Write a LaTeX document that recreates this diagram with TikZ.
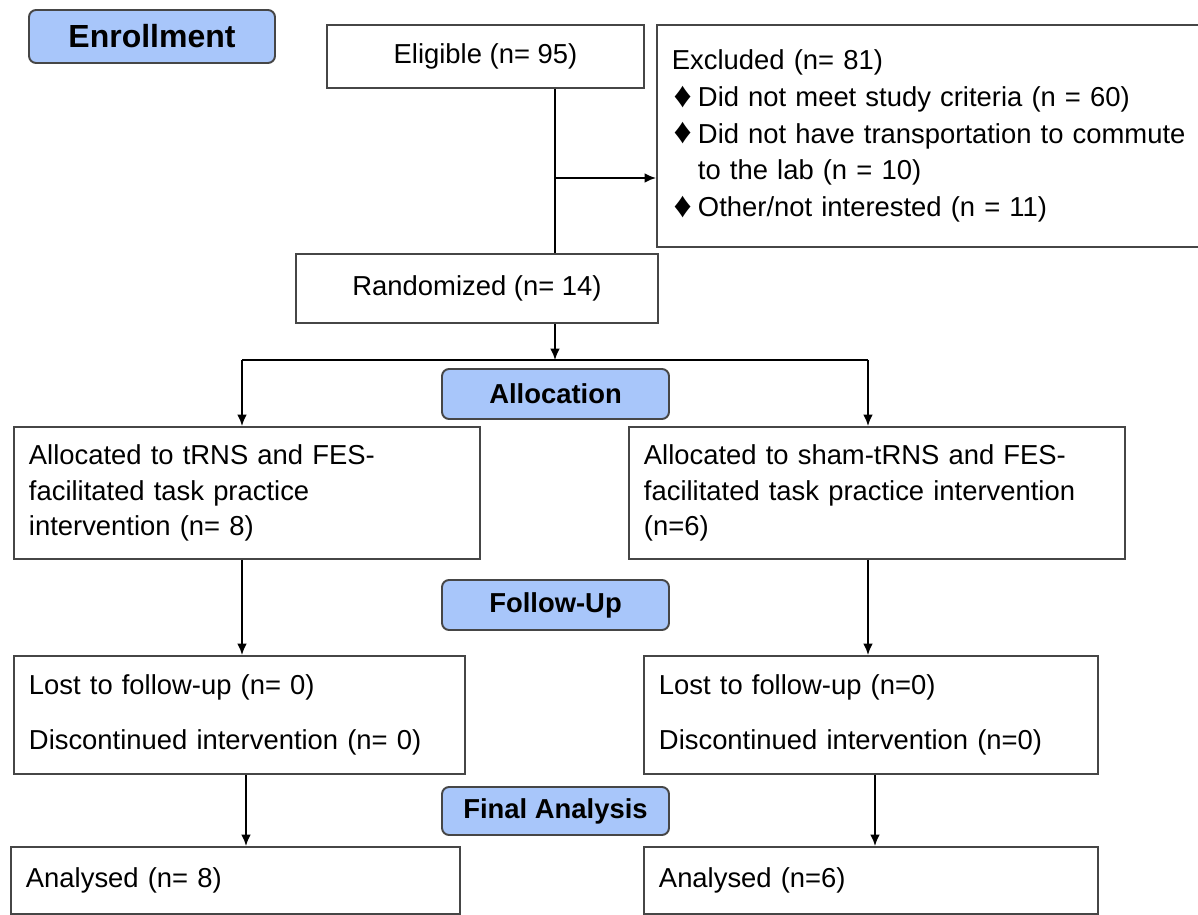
\documentclass[tikz,border=0pt]{standalone}
\usepackage{fontspec}
\setmainfont{Liberation Sans}
\usetikzlibrary{arrows.meta}

\definecolor{headblue}{RGB}{168,198,250}
\definecolor{edgegray}{RGB}{70,70,70}
\newcommand{\dia}{\makebox[14.8pt][l]{\hspace{1pt}\raisebox{-0.5pt}{\scalebox{1.3}{♦}}}}

\begin{document}
\begin{tikzpicture}[x=0.02cm, y=-0.02cm,
  box/.style={draw=edgegray, line width=1.1pt, inner xsep=0.3cm, align=left,
    font=\fontsize{15.6}{20}\selectfont},
  midbox/.style={box, align=center, inner xsep=0pt},
  head/.style={draw=edgegray, fill=headblue, line width=1.1pt, rounded corners=4pt,
    minimum width=4.54cm, minimum height=1cm, font=\fontsize{15.6}{18}\selectfont\bfseries},
  link/.style={line width=1pt},
  arr/.style={link, -{Latex[length=6.5pt,width=5.5pt]}}]
\useasboundingbox (0,0) rectangle (1198,915);
\clip (0,0) rectangle (1198,915);

% stage labels
\node[head, minimum width=4.92cm, minimum height=1.06cm, font=\fontsize{18.2}{20}\selectfont\bfseries] (enrol) at (152,36.5) {Enrollment};
\node[head] (alloc) at (555.5,394) {Allocation};
\node[head] (follow) at (555.5,605) {Follow-Up};
\node[head, minimum height=0.96cm] (final) at (555.5,811) {Final Analysis};

% enrollment
\node[midbox, minimum width=6.34cm, minimum height=1.26cm] (elig) at (485.5,56.5) {Eligible (n= 95)};
\node[box, anchor=north west, minimum width=12cm, minimum height=4.44cm, text width=11.4cm,
  font=\fontsize{15.6}{21}\selectfont] (excl) at (656,24)
  {Excluded (n= 81)\\
   \dia Did not meet study criteria (n = 60)\\
   \dia Did not have transportation to commute\\
   \hspace*{14.8pt}to the lab (n = 10)\\
   \dia Other/not interested (n = 11)};
\node[midbox, minimum width=7.24cm, minimum height=1.38cm] (rand) at (477,288.5) {Randomized (n= 14)};

% two arms
\node[box, anchor=north west, minimum height=2.64cm, text width=8.72cm] (allocL) at (13,426)
  {Allocated to tRNS and FES-\\facilitated task practice\\intervention (n= 8)};
\node[box, anchor=north west, minimum height=2.64cm, text width=9.32cm] (allocR) at (628,426)
  {Allocated to sham-tRNS and FES-\\facilitated task practice intervention\\(n=6)};
\node[box, anchor=north west, minimum height=2.36cm, text width=8.42cm] (lostL) at (13,655)
  {Lost to follow-up (n= 0)\\[11pt]Discontinued intervention (n= 0)};
\node[box, anchor=north west, minimum height=2.36cm, text width=8.48cm] (lostR) at (643,655)
  {Lost to follow-up (n=0)\\[11pt]Discontinued intervention (n=0)};
\node[box, anchor=north west, minimum height=1.34cm, text width=8.38cm] (anaL) at (10,846)
  {Analysed (n= 8)};
\node[box, anchor=north west, minimum height=1.34cm, text width=8.48cm] (anaR) at (643,846)
  {Analysed (n=6)};

\coordinate (split) at (555,178);
\coordinate (fork) at (555,360);
\coordinate (forkL) at (242,360);
\coordinate (forkR) at (868,360);
\coordinate (dropL) at (246,0);
\coordinate (dropR) at (875,0);

\draw[link] (elig.south -| split) -- (rand.north -| split);
\draw[arr] (split) -- (excl.west |- split);
\draw[arr] (rand.south -| fork) -- (fork);
\draw[link] (forkL) -- (forkR);
\draw[arr] (forkL) -- (allocL.north -| forkL);
\draw[arr] (forkR) -- (allocR.north -| forkR);
\draw[arr] (allocL.south -| forkL) -- (lostL.north -| forkL);
\draw[arr] (allocR.south -| forkR) -- (lostR.north -| forkR);
\draw[arr] (lostL.south -| dropL) -- (anaL.north -| dropL);
\draw[arr] (lostR.south -| dropR) -- (anaR.north -| dropR);
\end{tikzpicture}
\end{document}
